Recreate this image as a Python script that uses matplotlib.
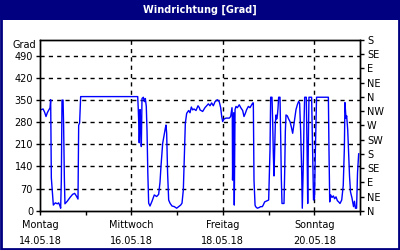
import matplotlib
matplotlib.use("Agg")
import matplotlib.pyplot as plt
from matplotlib.patches import Rectangle

# hours since Montag 14.05.18 00:00 and wind direction in degrees
hours = [0.35, 1.6, 2.4, 3.15, 3.85, 4.55, 5.25, 5.6, 5.95, 7.0, 8.05, 9.1, 9.8,
         10.5, 10.85, 11.2, 11.55, 12.1, 12.4, 12.8, 13.1, 14.3, 15.75, 17.15,
         18.2, 19.25, 19.95, 20.3, 20.8, 21.35,
         51.3, 51.6, 52.0, 52.1, 52.5, 52.9, 53.2, 53.55, 54.25, 54.8, 55.3,
         55.8, 56.2, 56.6,
         57.05, 57.75, 58.8, 60.0, 61.25, 62.3, 63.0, 63.5, 64.4, 65.3, 65.8,
         66.15, 66.5, 67.0, 67.55, 68.25, 69.3, 70.5, 71.75, 72.8, 73.85, 74.55,
         75.25, 75.8, 76.3, 77.0, 78.05, 78.75, 79.45, 80.15, 80.85, 81.9, 82.95,
         83.65,
         84.0, 85.4, 86.6, 88.4, 89.25, 90.1, 91.0, 91.9, 93.1, 94.1, 94.85,
         95.4, 95.9, 96.6, 97.65, 99.4, 100.1, 100.8, 100.96, 101.1, 101.5,
         101.7, 102.0, 102.4, 102.9, 103.6, 104.6, 105.4, 106.4, 107.1, 107.8,
         108.5, 109.4, 110.25, 111.1, 111.7, 112.0, 112.35, 112.9,
         113.2, 114.1, 115.0, 115.85, 116.7, 117.2, 117.95, 119.3, 120.05, 120.4,
         120.75, 121.1, 121.8, 122.15, 122.5, 122.85, 123.2, 123.55, 123.9,
         124.25, 124.6, 124.95, 125.3, 126.0, 126.35, 126.7, 127.05, 128.1,
         128.45, 128.8, 129.15, 129.85, 130.55, 131.25, 131.95, 132.65, 133.0,
         133.7, 134.4, 135.1, 135.8, 136.3, 136.85, 137.4, 137.7, 138.25, 138.6,
         138.95, 139.8, 140.2, 140.55, 140.85, 141.2,
         142.6, 143.1, 143.6, 144.1, 144.6, 145.2, 151.4, 151.7, 152.1, 152.6,
         153.3, 154.0, 154.7, 155.4, 156.1, 156.8, 157.5, 158.4, 159.2, 159.8,
         160.1, 160.65, 161.0, 161.55, 162.1, 162.5, 163.0, 163.8, 164.6, 165.1,
         165.6, 166.2, 166.7, 167.3]
grad = [319, 322, 312, 298, 310, 318, 325, 351, 104, 18, 25, 22, 25,
        15, 8, 97, 350, 350, 270, 100, 22, 30, 42, 52,
        55, 45, 37, 270, 278, 361,
        361, 320, 250, 215, 320, 280, 203, 355, 359, 345, 355,
        330, 250, 120,
        24, 15, 30, 50, 45, 52, 90, 139, 213, 245, 261,
        271, 245, 118, 34, 24, 15, 13, 8, 13, 18, 24,
        66, 171, 277, 308, 317, 310, 328, 319, 322, 317, 332,
        326,
        319, 314, 326, 338, 332, 341, 332, 345, 351, 345, 326,
        298, 282, 290, 293, 293, 298, 326, 300, 97, 250,
        310, 18, 320, 330, 326, 335, 326, 317, 298, 308,
        320, 330, 326, 335, 341, 341, 97, 18,
        13, 8, 10, 13, 13, 18, 28, 32, 34, 118,
        192, 359, 359, 280, 180, 110, 192, 277, 303,
        290, 300, 324, 359, 359, 240, 100, 23, 23,
        120, 250, 303, 300, 290, 282, 265, 245, 260,
        290, 320, 335, 346, 340, 250, 120, 8, 150, 277,
        359, 359, 200, 23, 200, 359,
        359, 200, 34, 40, 200, 359, 359, 200, 28, 50,
        42, 47, 38, 44, 32, 28, 23, 34, 80, 200,
        342, 292, 300, 256, 170, 110, 60, 40, 13, 30,
        8, 8, 120, 180]

left_ticks = [0, 70, 140, 210, 280, 350, 420, 490]
compass = ["N", "NE", "E", "SE", "S", "SW", "W", "NW", "N", "NE", "E", "SE", "S"]
day_ticks = [0, 48, 96, 144]
day_labels = ["Montag\n14.05.18", "Mittwoch\n16.05.18", "Freitag\n18.05.18",
              "Sonntag\n20.05.18"]

navy = "#000080"
plt.rcParams["font.family"] = "DejaVu Sans"

fig = plt.figure(figsize=(4, 2.5), dpi=100)

# title bar and frame
fig.patches.append(Rectangle((0, 0.92), 1, 0.08, transform=fig.transFigure,
                             facecolor=navy, edgecolor="none", zorder=0))
fig.patches.append(Rectangle((0.002, 0.003), 0.996, 0.994, transform=fig.transFigure,
                             facecolor="none", edgecolor=navy, linewidth=2, zorder=5))
fig.text(0.5, 0.96, "Windrichtung [Grad]", color="white", fontsize=7,
         fontweight="bold", ha="center", va="center")

ax = fig.add_axes([0.1, 0.157, 0.8, 0.683])
ax.plot(hours, grad, color="#0000ff", linewidth=1.0)

ax.set_xlim(0, 168)
ax.set_ylim(0, 540)
ax.set_yticks(left_ticks)
ax.set_xticks(day_ticks)
ax.set_xticklabels(day_labels, linespacing=1.7)
ax.set_xticks([24, 72, 120, 168], minor=True)
ax.tick_params(axis="both", which="both", labelsize=7, length=3, width=1,
               color="black", pad=2)
ax.tick_params(axis="x", pad=4)

for v in left_ticks[1:]:
    ax.axhline(v, color="black", linestyle=(0, (3, 3)), linewidth=1, zorder=1)
for d in day_ticks[1:]:
    ax.axvline(d, color="black", linestyle=(0, (3, 3)), linewidth=1, zorder=1)

ax.text(-0.012, 525, "Grad", transform=ax.get_yaxis_transform(), fontsize=7,
        ha="right", va="center")

ax2 = ax.twinx()
ax2.set_ylim(0, 540)
ax2.set_yticks(list(range(0, 541, 45)))
ax2.set_yticklabels(compass)
ax2.tick_params(axis="y", labelsize=7, length=3, width=1, pad=2)

for a in (ax, ax2):
    for s in a.spines.values():
        s.set_linewidth(1)
        s.set_color("black")

fig.savefig("out.png", dpi=100)
